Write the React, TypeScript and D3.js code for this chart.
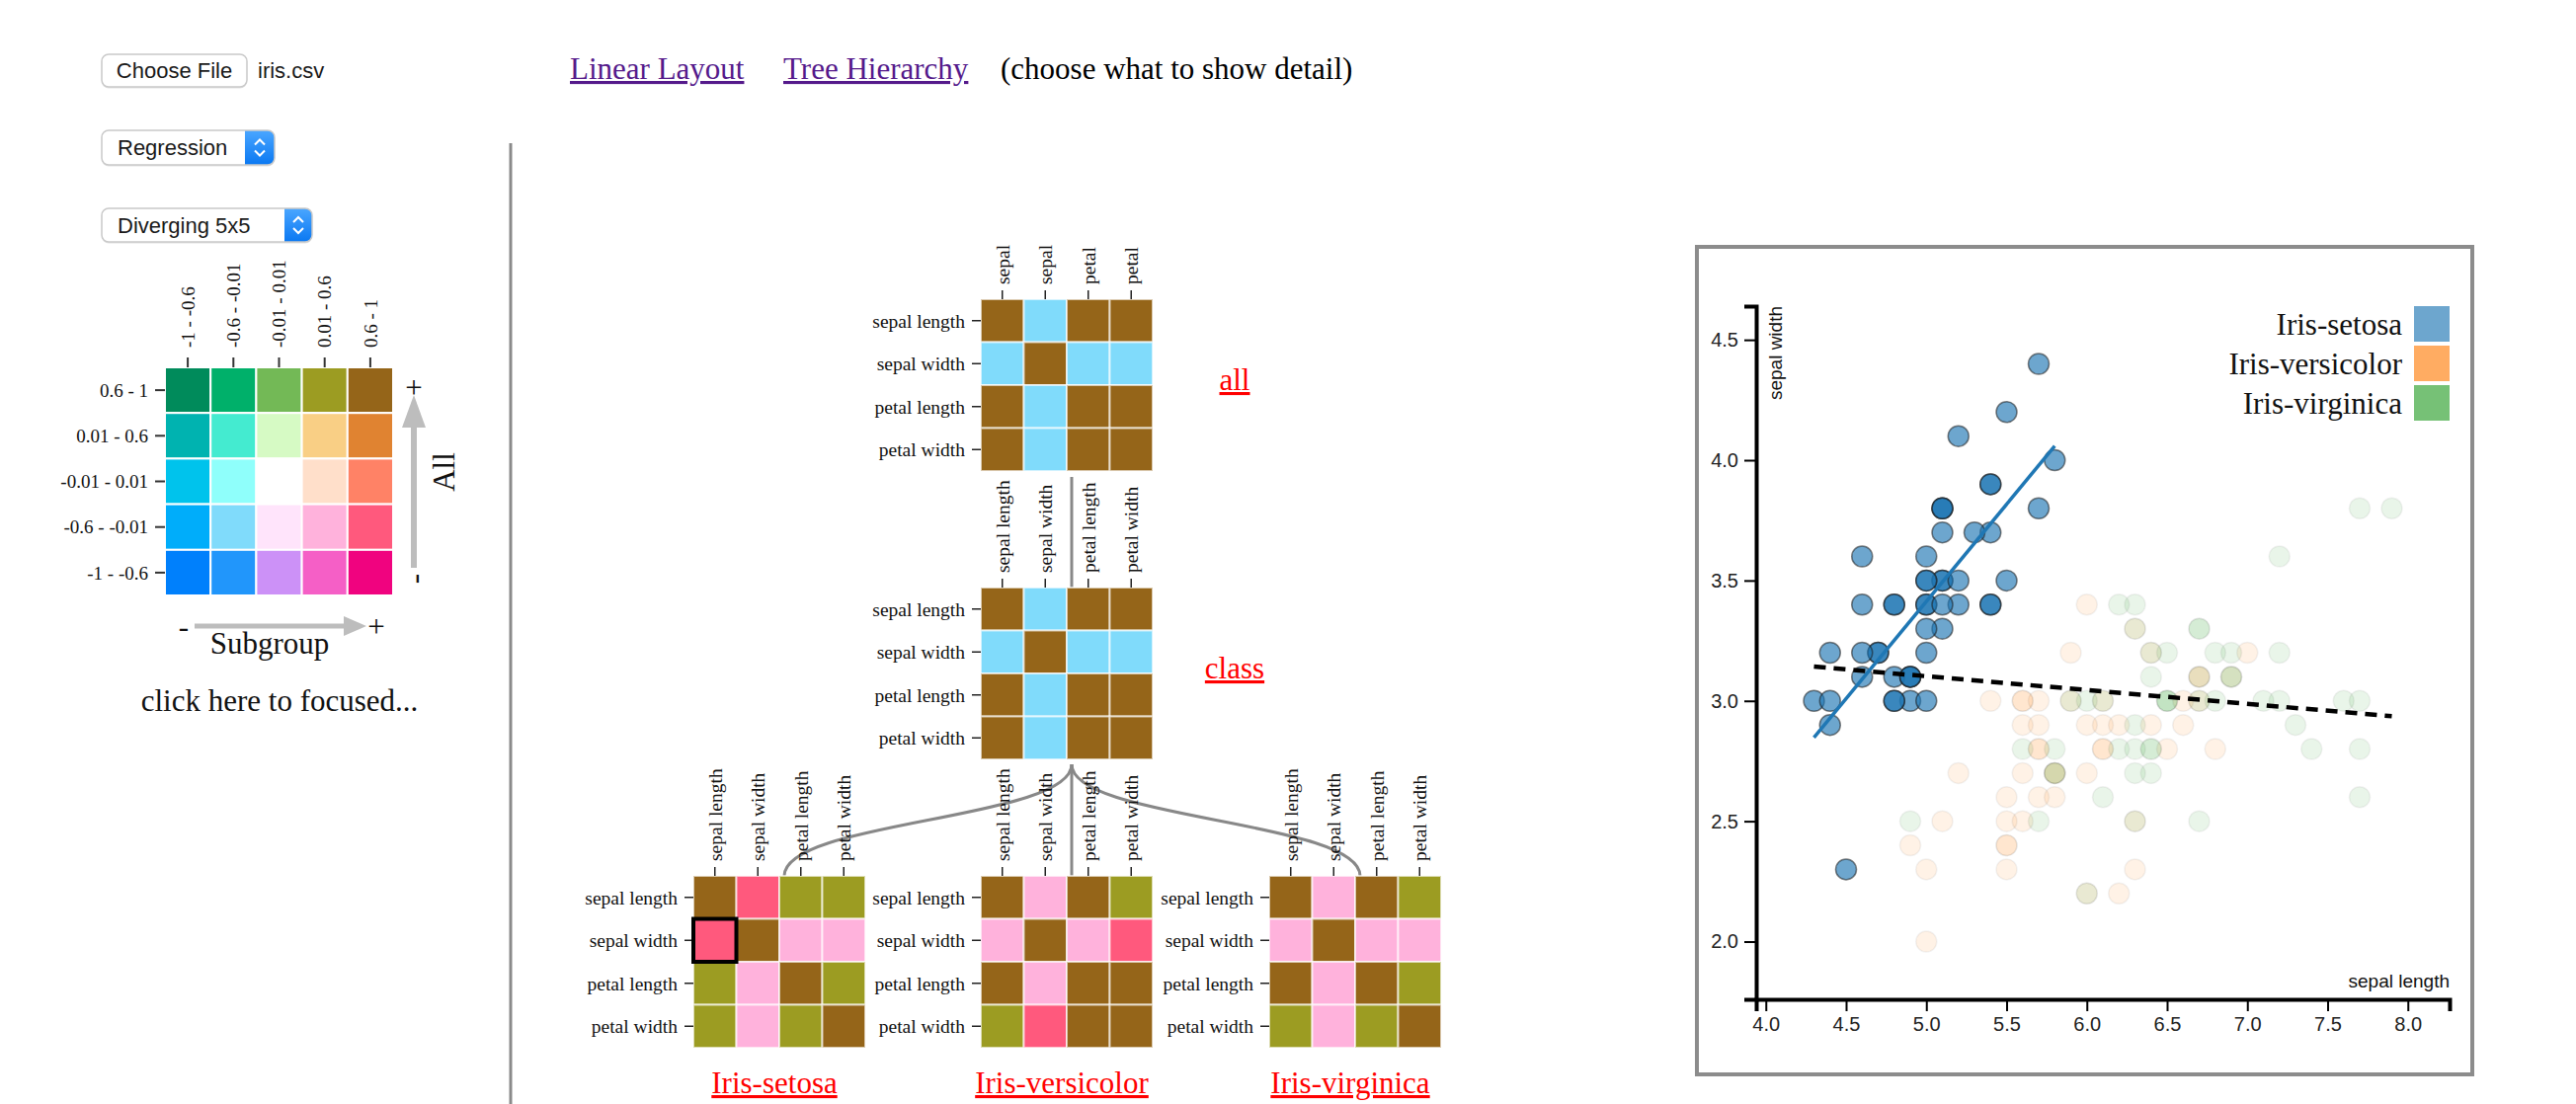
import React, { useEffect, useRef } from "react";
import * as d3 from "d3";

const SERIF = "'Liberation Serif','Times New Roman',Times,serif";
const SANS = "'Liberation Sans',Arial,Helvetica,sans-serif";

// ---------- data ----------
const FEATURES = ["sepal length", "sepal width", "petal length", "petal width"];
const SPECIES = ["Iris-setosa", "Iris-versicolor", "Iris-virginica"];

// Pearson correlations, upper triangle: SL-SW, SL-PL, SL-PW, SW-PL, SW-PW, PL-PW
const corrAll = [-0.109, 0.872, 0.818, -0.421, -0.357, 0.963];
const corrSetosa = [0.743, 0.267, 0.278, 0.178, 0.233, 0.332];
const corrVersicolor = [0.526, 0.754, 0.546, 0.561, 0.664, 0.787];
const corrVirginica = [0.457, 0.864, 0.281, 0.401, 0.538, 0.322];

// bins shared by both legend axes (most negative first)
const binLabels = ["-1 - -0.6", "-0.6 - -0.01", "-0.01 - 0.01", "0.01 - 0.6", "0.6 - 1"];
const binEdges = [-0.6, -0.01, 0.01, 0.6];

// bivariate palette, rows = "All" bin from 0.6-1 down to -1 - -0.6, cols = subgroup bin
const paletteRows = [
  ["#008b5b", "#00b06a", "#73b956", "#9c9c22", "#956519"],
  ["#00b3b0", "#44ebd0", "#d6fac4", "#f9cf85", "#e08331"],
  ["#00c3ec", "#8ffffb", "#ffffff", "#ffdfca", "#ff8266"],
  ["#00adfa", "#80dbfb", "#ffe4fb", "#ffb2dc", "#ff597d"],
  ["#0080fc", "#2196fb", "#cc91f7", "#f55fc6", "#f0037f"],
];

// sepal length / sepal width per species
const setosaSL = [5.1,4.9,4.7,4.6,5.0,5.4,4.6,5.0,4.4,4.9,5.4,4.8,4.8,4.3,5.8,5.7,5.4,5.1,5.7,5.1,5.4,5.1,4.6,5.1,4.8,5.0,5.0,5.2,5.2,4.7,4.8,5.4,5.2,5.5,4.9,5.0,5.5,4.9,4.4,5.1,5.0,4.5,4.4,5.0,5.1,4.8,5.1,4.6,5.3,5.0];
const setosaSW = [3.5,3.0,3.2,3.1,3.6,3.9,3.4,3.4,2.9,3.1,3.7,3.4,3.0,3.0,4.0,4.4,3.9,3.5,3.8,3.8,3.4,3.7,3.6,3.3,3.4,3.0,3.4,3.5,3.4,3.2,3.1,3.4,4.1,4.2,3.1,3.2,3.5,3.1,3.0,3.4,3.5,2.3,3.2,3.5,3.8,3.0,3.8,3.2,3.7,3.3];
const versicolorSL = [7.0,6.4,6.9,5.5,6.5,5.7,6.3,4.9,6.6,5.2,5.0,5.9,6.0,6.1,5.6,6.7,5.6,5.8,6.2,5.6,5.9,6.1,6.3,6.1,6.4,6.6,6.8,6.7,6.0,5.7,5.5,5.5,5.8,6.0,5.4,6.0,6.7,6.3,5.6,5.5,5.5,6.1,5.8,5.0,5.6,5.7,5.7,6.2,5.1,5.7];
const versicolorSW = [3.2,3.2,3.1,2.3,2.8,2.8,3.3,2.4,2.9,2.7,2.0,3.0,2.2,2.9,2.9,3.1,3.0,2.7,2.2,2.5,3.2,2.8,2.5,2.8,2.9,3.0,2.8,3.0,2.9,2.6,2.4,2.4,2.7,2.7,3.0,3.4,3.1,2.3,3.0,2.5,2.6,3.0,2.6,2.3,2.7,3.0,2.9,2.9,2.5,2.8];
const virginicaSL = [6.3,5.8,7.1,6.3,6.5,7.6,4.9,7.3,6.7,7.2,6.5,6.4,6.8,5.7,5.8,6.4,6.5,7.7,7.7,6.0,6.9,5.6,7.7,6.3,6.7,7.2,6.2,6.1,6.4,7.2,7.4,7.9,6.4,6.3,6.1,7.7,6.3,6.4,6.0,6.9,6.7,6.9,5.8,6.8,6.7,6.7,6.3,6.5,6.2,5.9];
const virginicaSW = [3.3,2.7,3.0,2.9,3.0,3.0,2.5,2.9,2.5,3.6,3.2,2.7,3.0,2.5,2.8,3.2,3.0,3.8,2.6,2.2,3.2,2.8,2.8,2.7,3.3,3.2,2.8,3.0,2.8,3.0,2.8,3.8,2.8,2.8,2.6,3.0,3.4,3.1,3.0,3.1,3.1,3.1,2.7,3.2,3.3,3.0,2.5,3.0,3.4,3.0];

const speciesColors = ["#1f77b4", "#ff7f0e", "#2ca02c"];

// ---------- helpers ----------
const PAIRS = [[0, 1], [0, 2], [0, 3], [1, 2], [1, 3], [2, 3]];
function fullMatrix(upper: number[]) {
  const m = FEATURES.map((_, i) => FEATURES.map((__, j) => (i === j ? 1 : 0)));
  PAIRS.forEach(([a, b], k) => {
    m[a][b] = upper[k];
    m[b][a] = upper[k];
  });
  return m;
}
const binOf = (v: number) => d3.bisectRight(binEdges, v);
const cellColor = (all: number, sub: number) => paletteRows[4 - binOf(all)][binOf(sub)];

const MAT = 174;
const band = d3.scaleBand<string>().domain(FEATURES).range([0, MAT]);

function CorrMatrix({ x, y, all, sub, highlight }: { x: number; y: number; all: number[]; sub: number[]; highlight?: [number, number] }) {
  const A = fullMatrix(all);
  const S = fullMatrix(sub);
  const bw = band.bandwidth();
  return (
    <g transform={`translate(${x},${y})`}>
      {FEATURES.map((r, i) =>
        FEATURES.map((c, j) => (
          <rect key={`${i}-${j}`} x={band(c)} y={band(r)} width={bw} height={bw}
            fill={cellColor(A[i][j], S[i][j])} stroke="#fff" strokeOpacity={0.65} strokeWidth={2} />
        ))
      )}
      {FEATURES.map((r) => {
        const cy = (band(r) as number) + bw / 2;
        return (
          <g key={`r-${r}`}>
            <line x1={-9} x2={0} y1={cy} y2={cy} stroke="#222" strokeWidth={1.5} />
            <text x={-16} y={cy} dy="0.35em" textAnchor="end" fontFamily={SERIF} fontSize={19.5} fill="#111">{r}</text>
          </g>
        );
      })}
      {FEATURES.map((c) => {
        const cx = (band(c) as number) + bw / 2;
        return (
          <g key={`c-${c}`}>
            <line x1={cx} x2={cx} y1={-9} y2={0} stroke="#222" strokeWidth={1.5} />
            <text transform={`translate(${cx},-15) rotate(-90)`} dy="0.35em" textAnchor="start" fontFamily={SERIF} fontSize={19.5} fill="#111">{c}</text>
          </g>
        );
      })}
      {highlight && (
        <rect x={band(FEATURES[highlight[1]])} y={band(FEATURES[highlight[0]])} width={bw} height={bw}
          fill="none" stroke="#000" strokeWidth={4} />
      )}
    </g>
  );
}

function SelectBox({ x, y, w, h, blueW, label, id }: { x: number; y: number; w: number; h: number; blueW: number; label: string; id: string }) {
  const cx = x + w - blueW / 2;
  const cy = y + h / 2;
  return (
    <g>
      <defs>
        <clipPath id={id}><rect x={x} y={y} width={w} height={h} rx={7} /></clipPath>
      </defs>
      <rect x={x} y={y + 1.5} width={w} height={h} rx={7} fill="#e4e4e4" />
      <rect x={x} y={y} width={w} height={h} rx={7} fill="#fff" />
      <rect x={x + w - blueW} y={y} width={blueW} height={h} fill="url(#selBlue)" clipPath={`url(#${id})`} />
      <rect x={x} y={y} width={w} height={h} rx={7} fill="none" stroke="#c9c9c9" strokeWidth={1.5} />
      <text x={x + 16} y={cy} dy="0.35em" fontFamily={SANS} fontSize={22} fill="#1a1a1a">{label}</text>
      <path d={`M${cx - 5},${cy - 3} L${cx},${cy - 8} L${cx + 5},${cy - 3}`} fill="none" stroke="#fff" strokeWidth={2} />
      <path d={`M${cx - 5},${cy + 3} L${cx},${cy + 8} L${cx + 5},${cy + 3}`} fill="none" stroke="#fff" strokeWidth={2} />
    </g>
  );
}

// least squares fit
function fit(xs: number[], ys: number[]) {
  const mx = d3.mean(xs) as number;
  const my = d3.mean(ys) as number;
  let sxy = 0, sxx = 0;
  xs.forEach((v, i) => { sxy += (v - mx) * (ys[i] - my); sxx += (v - mx) ** 2; });
  const slope = sxy / sxx;
  return { slope, intercept: my - slope * mx };
}

export default function App() {
  const xAxisRef = useRef<SVGGElement>(null);
  const yAxisRef = useRef<SVGGElement>(null);

  const allSL = [...setosaSL, ...versicolorSL, ...virginicaSL];
  const allSW = [...setosaSW, ...versicolorSW, ...virginicaSW];
  const [xMin, xMax] = d3.extent(allSL) as [number, number];
  const [yMin, yMax] = d3.extent(allSW) as [number, number];
  const xPad = (xMax - xMin) * 0.1;
  const yPad = (yMax - yMin) * 0.1;

  const PL = 1778, PR = 2480, PT = 310, PB = 1012;
  const x = d3.scaleLinear().domain([xMin - xPad, xMax + xPad]).range([PL, PR]);
  const y = d3.scaleLinear().domain([yMin - yPad, yMax + yPad]).range([PB, PT]);

  useEffect(() => {
    document.body.style.margin = "0";
    document.body.style.overflow = "hidden";
    const gx = d3.select(xAxisRef.current as SVGGElement);
    gx.call(d3.axisBottom(x).ticks(10).tickSize(12).tickSizeOuter(12).tickPadding(6).tickFormat(d3.format(".1f")) as any);
    gx.attr("font-size", 20).attr("font-family", SANS);
    gx.select(".domain").attr("stroke-width", 4);
    gx.selectAll(".tick line").attr("stroke-width", 2);
    gx.selectAll(".tick text").attr("fill", "#222");
    const gy = d3.select(yAxisRef.current as SVGGElement);
    gy.call(d3.axisLeft(y).ticks(6).tickSize(12).tickSizeOuter(12).tickPadding(6).tickFormat(d3.format(".1f")) as any);
    gy.attr("font-size", 20).attr("font-family", SANS);
    gy.select(".domain").attr("stroke-width", 4);
    gy.selectAll(".tick line").attr("stroke-width", 2);
    gy.selectAll(".tick text").attr("fill", "#222");
  }, []);

  const groups = [
    { sl: setosaSL, sw: setosaSW, color: speciesColors[0], active: true },
    { sl: versicolorSL, sw: versicolorSW, color: speciesColors[1], active: false },
    { sl: virginicaSL, sw: virginicaSW, color: speciesColors[2], active: false },
  ];

  const setosaFit = fit(setosaSL, setosaSW);
  const allFit = fit(allSL, allSW);
  const line = d3.line<number>().x((v) => x(v));
  const sxExt = d3.extent(setosaSL) as [number, number];
  const setosaPath = d3.line<number>().x((v) => x(v)).y((v) => y(setosaFit.slope * v + setosaFit.intercept))(sxExt);
  const allPath = d3.line<number>().x((v) => x(v)).y((v) => y(allFit.slope * v + allFit.intercept))([xMin, xMax]);
  void line;

  // tree layout
  const link = d3.linkVertical<any, { x: number; y: number }>().x((d) => d.x).y((d) => d.y);
  const nodes = {
    all: { x: 993, y: 303 },
    cls: { x: 993, y: 595 },
    kids: [{ x: 702, y: 887 }, { x: 993, y: 887 }, { x: 1285, y: 887 }],
  };
  const kidCorr = [corrSetosa, corrVersicolor, corrVirginica];
  const anchorX = (n: { x: number }) => n.x + MAT / 2 + 5;

  // legend
  const LG = { x: 167, y: 372, cell: 46.2 };

  return (
    <svg width={2608} height={1118} style={{ position: "absolute", left: 0, top: 0, background: "#fff" }}>
      <defs>
        <linearGradient id="selBlue" x1="0" y1="0" x2="0" y2="1">
          <stop offset="0" stopColor="#4aa6ff" />
          <stop offset="1" stopColor="#0a78f2" />
        </linearGradient>
        <clipPath id="treeClip"><rect x={530} y={246} width={1150} height={872} /></clipPath>
      </defs>

      {/* controls */}
      <rect x={103} y={56.5} width={147} height={33} rx={7} fill="#e4e4e4" />
      <rect x={103} y={55} width={147} height={33} rx={7} fill="#fff" stroke="#c9c9c9" strokeWidth={1.5} />
      <text x={176.5} y={71.5} dy="0.35em" textAnchor="middle" fontFamily={SANS} fontSize={22} fill="#1a1a1a">Choose File</text>
      <text x={261} y={71.5} dy="0.35em" fontFamily={SANS} fontSize={22} fill="#1a1a1a">iris.csv</text>
      <SelectBox x={103} y={132} w={175} h={35} blueW={30} label="Regression" id="selA" />
      <SelectBox x={103} y={211} w={213} h={34} blueW={28} label="Diverging 5x5" id="selB" />

      <line x1={517} x2={517} y1={145} y2={1118} stroke="#8a8a8a" strokeWidth={3} />

      {/* navigation */}
      <text x={577} y={80} fontFamily={SERIF} fontSize={31} fill="#551a8b" textDecoration="underline">Linear Layout</text>
      <text x={793} y={80} fontFamily={SERIF} fontSize={31} fill="#551a8b" textDecoration="underline">Tree Hierarchy</text>
      <text x={1013} y={80} fontFamily={SERIF} fontSize={31} fill="#000">(choose what to show detail)</text>

      {/* bivariate legend */}
      <g>
        {paletteRows.map((row, i) =>
          row.map((c, j) => (
            <rect key={`lg-${i}-${j}`} x={LG.x + j * LG.cell} y={LG.y + i * LG.cell} width={LG.cell} height={LG.cell}
              fill={c} stroke="#fff" strokeWidth={2} />
          ))
        )}
        {binLabels.map((lab, j) => {
          const cx = LG.x + (j + 0.5) * LG.cell;
          return (
            <g key={`lc-${j}`}>
              <line x1={cx} x2={cx} y1={LG.y - 10} y2={LG.y} stroke="#333" strokeWidth={2} />
              <text transform={`translate(${cx},${LG.y - 20}) rotate(-90)`} dy="0.35em" fontFamily={SERIF} fontSize={19} fill="#111">{lab}</text>
            </g>
          );
        })}
        {binLabels.slice().reverse().map((lab, i) => {
          const cy = LG.y + (i + 0.5) * LG.cell;
          return (
            <g key={`lr-${i}`}>
              <line x1={LG.x - 10} x2={LG.x} y1={cy} y2={cy} stroke="#333" strokeWidth={2} />
              <text x={150} y={cy} dy="0.35em" textAnchor="end" fontFamily={SERIF} fontSize={19} fill="#111">{lab}</text>
            </g>
          );
        })}
        {/* vertical arrow */}
        <line x1={419} x2={419} y1={575} y2={425} stroke="#bdbdbd" strokeWidth={6} />
        <path d="M419,400 L431,433 L407,433 Z" fill="#bdbdbd" />
        <text x={419} y={392} dy="0.35em" textAnchor="middle" fontFamily={SERIF} fontSize={31} fill="#111">+</text>
        <text transform="translate(419,586) rotate(-90)" dy="0.35em" textAnchor="middle" fontFamily={SERIF} fontSize={31} fill="#111">-</text>
        <text transform="translate(449,478) rotate(-90)" dy="0.35em" textAnchor="middle" fontFamily={SERIF} fontSize={31} fill="#111">All</text>
        {/* horizontal arrow */}
        <line x1={197} x2={352} y1={634} y2={634} stroke="#bdbdbd" strokeWidth={5} />
        <path d="M371,634 L348,624 L348,644 Z" fill="#bdbdbd" />
        <text x={186} y={634} dy="0.35em" textAnchor="middle" fontFamily={SERIF} fontSize={31} fill="#111">-</text>
        <text x={381} y={634} dy="0.35em" textAnchor="middle" fontFamily={SERIF} fontSize={31} fill="#111">+</text>
        <text x={273} y={662} textAnchor="middle" fontFamily={SERIF} fontSize={31} fill="#111">Subgroup</text>
        <text x={283} y={720} textAnchor="middle" fontFamily={SERIF} fontSize={31} fill="#111">click here to focused...</text>
      </g>

      {/* correlation tree */}
      <g clipPath="url(#treeClip)">
        <path d={link({ source: { x: anchorX(nodes.all), y: nodes.all.y + MAT + 6 }, target: { x: anchorX(nodes.cls), y: nodes.cls.y } }) as string}
          fill="none" stroke="#888" strokeWidth={3} />
        {nodes.kids.map((k, i) => (
          <path key={`lk-${i}`} d={link({ source: { x: anchorX(nodes.cls), y: nodes.cls.y + MAT + 5 }, target: { x: anchorX(k), y: k.y } }) as string}
            fill="none" stroke="#888" strokeWidth={3} />
        ))}
        <CorrMatrix x={nodes.all.x} y={nodes.all.y} all={corrAll} sub={corrAll} />
        <CorrMatrix x={nodes.cls.x} y={nodes.cls.y} all={corrAll} sub={corrAll} />
        {nodes.kids.map((k, i) => (
          <CorrMatrix key={`km-${i}`} x={k.x} y={k.y} all={corrAll} sub={kidCorr[i]} highlight={i === 0 ? [1, 0] : undefined} />
        ))}
        <text x={1250} y={395} textAnchor="middle" fontFamily={SERIF} fontSize={31} fill="#ff0000" textDecoration="underline">all</text>
        <text x={1250} y={687} textAnchor="middle" fontFamily={SERIF} fontSize={31} fill="#ff0000" textDecoration="underline">class</text>
        {nodes.kids.map((k, i) => (
          <text key={`kl-${i}`} x={k.x + MAT / 2 - 5} y={1107} textAnchor="middle" fontFamily={SERIF} fontSize={31} fill="#ff0000" textDecoration="underline">{SPECIES[i]}</text>
        ))}
      </g>

      {/* scatter plot */}
      <rect x={1718} y={250} width={785} height={838} fill="none" stroke="#8c8c8c" strokeWidth={4} />
      {[1, 2, 0].map((gi) => {
        const g = groups[gi];
        return (
          <g key={`pts-${gi}`}>
            {g.sl.map((v, i) => (
              <circle key={i} cx={x(v)} cy={y(g.sw[i])} r={10.5} fill={g.color}
                fillOpacity={g.active ? 0.65 : 0.1} stroke="#1b1b1b" strokeOpacity={g.active ? 0.55 : 0.06} strokeWidth={1.5} />
            ))}
          </g>
        );
      })}
      <path d={setosaPath as string} fill="none" stroke="#1f77b4" strokeWidth={3.5} />
      <path d={allPath as string} fill="none" stroke="#000" strokeWidth={4.5} strokeDasharray="12,8" />
      <g ref={xAxisRef} transform={`translate(0,${PB})`} />
      <g ref={yAxisRef} transform={`translate(${PL},0)`} />
      <text transform={`translate(${PL + 12},${PT}) rotate(-90)`} dy="0.71em" textAnchor="end" fontFamily={SANS} fontSize={19} fill="#111">sepal width</text>
      <text x={PR} y={PB - 12} textAnchor="end" fontFamily={SANS} fontSize={19} fill="#111">sepal length</text>
      {SPECIES.map((s, i) => (
        <g key={`leg-${s}`}>
          <rect x={PR - 36} y={PT + i * 40} width={36} height={36} fill={speciesColors[i]} fillOpacity={0.65} />
          <text x={PR - 48} y={PT + i * 40 + 18} dy="0.35em" textAnchor="end" fontFamily={SERIF} fontSize={31} fill="#111">{s}</text>
        </g>
      ))}
    </svg>
  );
}
